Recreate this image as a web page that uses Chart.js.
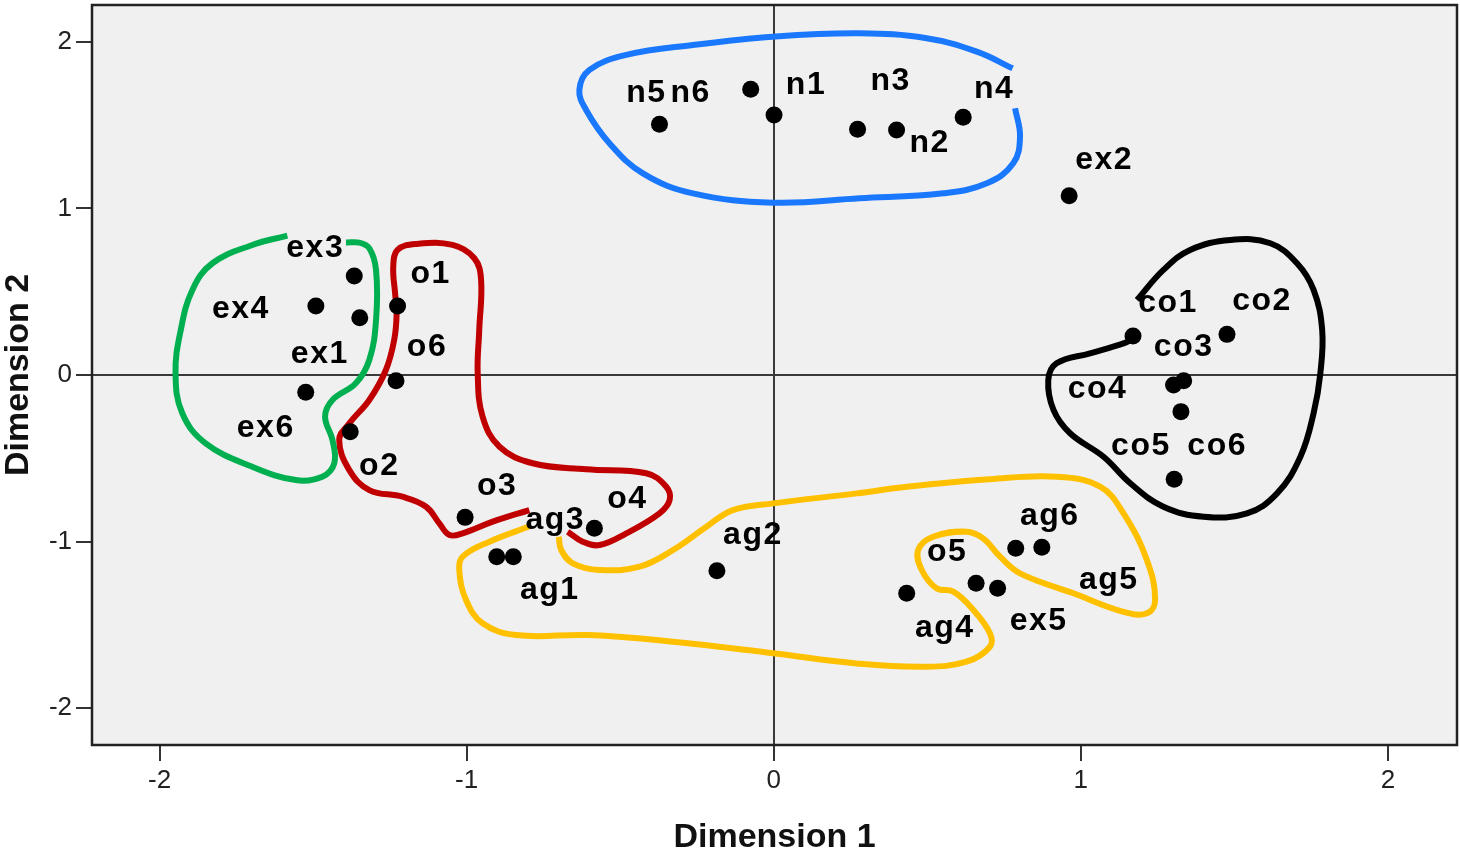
<!DOCTYPE html>
<html>
<head>
<meta charset="utf-8">
<script src="https://cdn.jsdelivr.net/npm/chart.js@4.4.0/dist/chart.umd.min.js"></script>
<style>
  html, body { margin: 0; padding: 0; background: #fff; }
  #wrap { width: 1460px; height: 855px; }
</style>
</head>
<body>
<div id="wrap"><canvas id="mdsChart" width="1460" height="855"></canvas></div>
<script>
// item coordinates
const itemNames = ['n1', 'n2', 'n3', 'n4', 'n5', 'n6',
  'ex1', 'ex2', 'ex3', 'ex4', 'ex5', 'ex6',
  'o1', 'o2', 'o3', 'o4', 'o5', 'o6',
  'ag1', 'ag2', 'ag3', 'ag4', 'ag5', 'ag6',
  'co1', 'co2', 'co3', 'co4', 'co5', 'co6'];
const dim1 = [0.001, 0.400, 0.273, 0.617, -0.372, -0.075,
  -1.348, 0.962, -1.366, -1.491, 0.729, -1.524,
  -1.225, -1.379, -1.005, -0.584, 0.659, -1.230,
  -0.902, -0.185, -0.848, 0.433, 0.873, 0.788,
  1.170, 1.476, 1.335, 1.302, 1.326, 1.304];
const dim2 = [1.562, 1.471, 1.476, 1.548, 1.506, 1.716,
  0.344, 1.076, 0.595, 0.414, -1.281, -0.104,
  0.414, -0.341, -0.855, -0.921, -1.251, -0.034,
  -1.091, -1.175, -1.091, -1.311, -1.035, -1.041,
  0.234, 0.244, -0.034, -0.060, -0.220, -0.626];

const axisTicks = [-2, -1, 0, 1, 2];

// hand drawn group outlines, in dimension units
const neuroOutline = [[0.778, 1.842], [0.661, 1.942], [0.498, 2.022], [0.280, 2.052], [-0.002, 2.032],
  [-0.263, 1.982], [-0.480, 1.922], [-0.600, 1.832], [-0.633, 1.712], [-0.611, 1.592], [-0.535, 1.392],
  [-0.426, 1.211], [-0.263, 1.091], [-0.002, 1.035], [0.280, 1.061], [0.552, 1.091], [0.694, 1.151],
  [0.780, 1.271], [0.802, 1.431], [0.786, 1.602]];
const extraOutline = [[-1.584, 0.837], [-1.698, 0.781], [-1.828, 0.671], [-1.893, 0.511], [-1.931, 0.270],
  [-1.948, 0.010], [-1.926, -0.230], [-1.850, -0.410], [-1.698, -0.551], [-1.556, -0.631], [-1.470, -0.611],
  [-1.431, -0.530], [-1.437, -0.390], [-1.461, -0.250], [-1.437, -0.150], [-1.361, -0.050], [-1.317, 0.090],
  [-1.295, 0.330], [-1.295, 0.631], [-1.317, 0.761], [-1.350, 0.795], [-1.393, 0.795]];
const openOutline = [[-0.796, -0.811], [-0.915, -0.881], [-1.013, -0.951], [-1.056, -0.961], [-1.089, -0.891],
  [-1.132, -0.791], [-1.209, -0.731], [-1.317, -0.691], [-1.382, -0.571], [-1.415, -0.390], [-1.382, -0.290],
  [-1.317, -0.150], [-1.263, 0.030], [-1.236, 0.210], [-1.228, 0.371], [-1.233, 0.491], [-1.239, 0.650],
  [-1.225, 0.751], [-1.165, 0.787], [-1.046, 0.781], [-0.975, 0.701], [-0.953, 0.571], [-0.959, 0.270],
  [-0.964, 0.010], [-0.948, -0.250], [-0.893, -0.431], [-0.785, -0.530], [-0.611, -0.566], [-0.415, -0.590],
  [-0.350, -0.671], [-0.339, -0.751], [-0.372, -0.831], [-0.480, -0.951], [-0.567, -1.021], [-0.622, -1.001],
  [-0.671, -0.941]];
const agreeOutline = [[-0.793, -0.907], [-0.926, -1.001], [-1.013, -1.091], [-1.024, -1.171], [-1.002, -1.351],
  [-0.948, -1.491], [-0.839, -1.562], [-0.600, -1.562], [-0.328, -1.602], [-0.002, -1.671], [0.270, -1.732],
  [0.487, -1.752], [0.628, -1.722], [0.704, -1.632], [0.704, -1.551], [0.650, -1.411], [0.585, -1.301],
  [0.530, -1.281], [0.482, -1.171], [0.470, -1.051], [0.519, -0.971], [0.628, -0.941], [0.682, -0.981],
  [0.737, -1.091], [0.802, -1.191], [0.976, -1.311], [1.139, -1.422], [1.215, -1.431], [1.242, -1.351],
  [1.215, -1.111], [1.139, -0.831], [1.063, -0.671], [0.922, -0.611], [0.704, -0.626], [0.433, -0.671],
  [0.270, -0.711], [-0.002, -0.771], [-0.133, -0.811], [-0.219, -0.911], [-0.328, -1.051], [-0.437, -1.151],
  [-0.567, -1.171], [-0.654, -1.131], [-0.692, -1.051], [-0.700, -0.971]];
const conscOutline = [[1.183, 0.450], [1.269, 0.631], [1.356, 0.751], [1.487, 0.811], [1.617, 0.791],
  [1.704, 0.671], [1.758, 0.511], [1.786, 0.270], [1.780, 0.010], [1.758, -0.230], [1.715, -0.491],
  [1.639, -0.711], [1.541, -0.831], [1.400, -0.851], [1.269, -0.791], [1.161, -0.650], [1.074, -0.491],
  [0.965, -0.350], [0.911, -0.210], [0.894, -0.030], [0.921, 0.070], [1.030, 0.130], [1.139, 0.190],
  [1.172, 0.220]];

// where each label sits relative to its dot (px)
const labelShift = [[32, -30], [33, 13], [33, -48], [31, -28], [-13, -31], [-60, 4],
  [-40, 36], [35, -36], [-39, -28], [-75, 3], [41, 33], [-40, 36],
  [33, -32], [29, 34], [32, -31], [33, -29], [-29, -31], [31, -33],
  [53, 34], [36, -35], [42, -36], [38, 35], [67, 33], [34, -32],
  [35, -33], [35, -33], [0, -33], [-76, 4], [-40, 35], [43, -33]];

const FONT = '"Liberation Sans", Arial, sans-serif';

function outline(pts, color) {
  return {
    data: pts.map(p => ({x: p[0], y: p[1]})),
    showLine: true,
    borderColor: color,
    borderWidth: 6,
    pointRadius: 0,
    pointHoverRadius: 0,
    tension: 0.4,
    fill: false
  };
}

const plotFrame = {
  id: 'plotFrame',
  beforeDraw(chart) {
    const a = chart.chartArea, ctx = chart.ctx;
    ctx.save();
    ctx.fillStyle = '#f0f0f0';
    ctx.fillRect(a.left, a.top, a.right - a.left, a.bottom - a.top);
    ctx.restore();
  },
  afterDraw(chart) {
    const a = chart.chartArea, ctx = chart.ctx;
    ctx.save();
    ctx.strokeStyle = '#222';
    ctx.lineWidth = 2.5;
    ctx.strokeRect(a.left, a.top, a.right - a.left, a.bottom - a.top);
    ctx.restore();
  }
};

const itemLabels = {
  id: 'itemLabels',
  afterDatasetsDraw(chart) {
    const ctx = chart.ctx;
    const dots = chart.getDatasetMeta(0).data;
    ctx.save();
    ctx.font = 'bold 32px ' + FONT;
    if ('letterSpacing' in ctx) ctx.letterSpacing = '1.5px';
    ctx.fillStyle = '#000';
    ctx.textAlign = 'center';
    ctx.textBaseline = 'middle';
    itemNames.forEach((name, i) => {
      ctx.fillText(name, dots[i].x + labelShift[i][0], dots[i].y + labelShift[i][1]);
    });
    ctx.restore();
  }
};

function zeroLine(c) {
  return c.tick && c.tick.value === 0 ? '#3a3a3a' : 'rgba(0,0,0,0)';
}

new Chart(document.getElementById('mdsChart'), {
  type: 'scatter',
  data: {
    datasets: [
      {
        data: dim1.map((v, i) => ({x: v, y: dim2[i]})),
        backgroundColor: '#000',
        borderWidth: 0,
        pointRadius: 8.5,
        pointHoverRadius: 8.5
      },
      outline(neuroOutline, '#1a78ff'),
      outline(extraOutline, '#00b050'),
      outline(openOutline, '#c00000'),
      outline(agreeOutline, '#ffc000'),
      outline(conscOutline, '#000000')
    ]
  },
  options: {
    responsive: false,
    animation: false,
    events: [],
    layout: { autoPadding: false, padding: { top: 5, right: 3, left: 0, bottom: 0 } },
    plugins: { legend: { display: false }, tooltip: { enabled: false } },
    scales: {
      x: {
        min: -2.22, max: 2.225,
        afterBuildTicks: s => { s.ticks = axisTicks.map(v => ({value: v})); },
        afterFit: s => { s.height = 110; s.paddingLeft = 0; s.paddingRight = 0; },
        border: { display: false },
        grid: { color: zeroLine, lineWidth: 2, tickColor: '#333', tickWidth: 2, tickLength: 16 },
        ticks: { font: { family: FONT, size: 26 }, color: '#222', padding: 4, maxRotation: 0 },
        title: { display: true, text: 'Dimension 1', color: '#111',
          font: { family: FONT, size: 34, weight: 'bold', lineHeight: 1 }, padding: { top: 0, bottom: 0 } }
      },
      y: {
        min: -2.222, max: 2.222,
        afterBuildTicks: s => { s.ticks = axisTicks.map(v => ({value: v})); },
        afterFit: s => { s.width = 92; s.paddingTop = 0; s.paddingBottom = 0; },
        border: { display: false },
        grid: { color: zeroLine, lineWidth: 2, tickColor: '#333', tickWidth: 2, tickLength: 16 },
        ticks: { font: { family: FONT, size: 26 }, color: '#222', padding: 4 },
        title: { display: true, text: 'Dimension 2', color: '#111',
          font: { family: FONT, size: 34, weight: 'bold', lineHeight: 1 }, padding: { top: 2, bottom: 0 } }
      }
    }
  },
  plugins: [plotFrame, itemLabels]
});
</script>
</body>
</html>
